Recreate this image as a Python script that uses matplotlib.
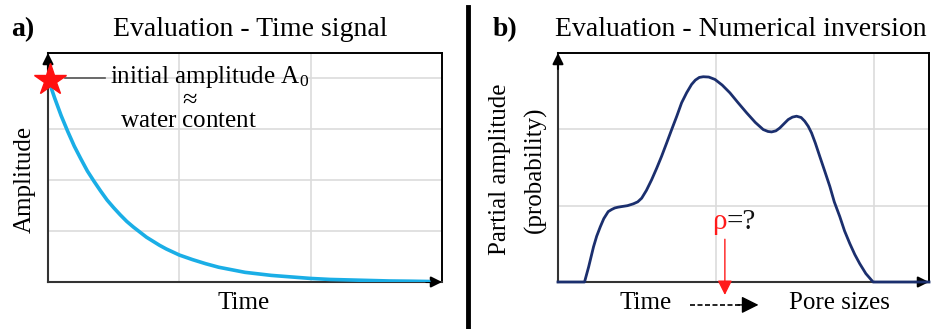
import matplotlib
matplotlib.use("Agg")
import matplotlib.pyplot as plt
from matplotlib.lines import Line2D

plt.rcParams['font.family'] = ['Liberation Serif', 'DejaVu Serif']
plt.rcParams['mathtext.fontset'] = 'custom'
plt.rcParams['mathtext.rm'] = 'Liberation Serif'
plt.rcParams['mathtext.it'] = 'Liberation Serif:italic'

# ---- data: panel a (time signal decay) ----
time_a = [0, 0.05, 0.1, 0.15, 0.2, 0.25, 0.3, 0.35, 0.4, 0.45, 0.5, 0.55,
          0.6, 0.65, 0.7, 0.75, 0.8, 0.85, 0.9, 0.95, 1.0, 1.1, 1.2, 1.3,
          1.4, 1.5, 1.6, 1.7, 1.8, 1.9, 2.0, 2.15, 2.3, 2.45, 2.6, 2.75, 2.9]
amp_a = [4.0, 3.62, 3.27, 2.96, 2.67, 2.42, 2.18, 1.98, 1.79, 1.61, 1.46,
         1.32, 1.19, 1.08, 0.98, 0.88, 0.80, 0.72, 0.65, 0.59, 0.53, 0.44,
         0.36, 0.29, 0.24, 0.19, 0.16, 0.13, 0.11, 0.09, 0.07, 0.05, 0.04,
         0.03, 0.02, 0.016, 0.01]

# ---- data: panel b (pore size distribution) ----
pore_b = [0.0, 0.168, 0.194, 0.225, 0.245, 0.268, 0.290, 0.318, 0.340, 0.36,
          0.380, 0.403, 0.44, 0.477, 0.505, 0.530, 0.56, 0.593, 0.625, 0.656,
          0.688, 0.720, 0.752, 0.783, 0.815, 0.846, 0.87, 0.895, 0.920, 0.955,
          0.994, 1.04, 1.089, 1.14, 1.195, 1.25, 1.300, 1.33, 1.353, 1.38,
          1.405, 1.43, 1.458, 1.485, 1.511, 1.54, 1.563, 1.585, 1.606, 1.63,
          1.658, 1.69, 1.722, 1.75, 1.785, 1.815, 1.848, 1.88, 1.911, 1.95,
          1.996, 2.35]
prob_b = [0.0, 0.0, 0.197, 0.461, 0.60, 0.724, 0.83, 0.922, 0.95, 0.97,
          0.98, 0.988, 1.0, 1.024, 1.05, 1.098, 1.20, 1.339, 1.49, 1.646,
          1.82, 1.997, 2.17, 2.348, 2.48, 2.588, 2.645, 2.68, 2.689, 2.685,
          2.654, 2.58, 2.478, 2.35, 2.216, 2.09, 1.997, 1.972, 1.966, 1.98,
          2.018, 2.07, 2.128, 2.16, 2.172, 2.155, 2.106, 2.04, 1.953, 1.82,
          1.646, 1.45, 1.251, 1.05, 0.856, 0.67, 0.505, 0.36, 0.241, 0.11,
          0.0, 0.0]

W, H = 931, 329
fig = plt.figure(figsize=(W / 100, H / 100), dpi=100)

grid_c = '#dcdcdc'
spine_c = '#333333'


def setup(ax, xlim, ylim, xt, yt):
    ax.set_xlim(*xlim)
    ax.set_ylim(*ylim)
    ax.set_xticks(xt)
    ax.set_yticks(yt)
    ax.tick_params(length=0, labelleft=False, labelbottom=False)
    ax.grid(True, color=grid_c, lw=1.2)
    ax.set_axisbelow(True)
    for s in ['left', 'bottom']:
        ax.spines[s].set_color(spine_c)
        ax.spines[s].set_linewidth(1.5)
    for s in ['top', 'right']:
        ax.spines[s].set_color('black')
        ax.spines[s].set_linewidth(1.4)
    # axis arrows
    ax.annotate('', xy=(0, 1.0), xytext=(0, 0.93), xycoords='axes fraction',
                arrowprops=dict(arrowstyle='-|>', color='black', lw=1.5,
                                mutation_scale=16, shrinkA=0, shrinkB=0),
                annotation_clip=False)
    ax.annotate('', xy=(1.0, 0), xytext=(0.96, 0), xycoords='axes fraction',
                arrowprops=dict(arrowstyle='-|>', color='black', lw=1.5,
                                mutation_scale=16, shrinkA=0, shrinkB=0),
                annotation_clip=False)


# ---------------- panel a ----------------
axa = fig.add_axes([48 / W, 47 / H, 394 / W, 229 / H])
setup(axa, (0, 3), (0, 4.5), [1, 2], [1, 2, 3, 4])
axa.plot(time_a, amp_a, color='#1aaee6', lw=2.6, solid_capstyle='round',
         solid_joinstyle='round', zorder=3)
axa.plot([0.13, 0.435], [4.0, 4.0], color='#555555', lw=1.2, clip_on=False, zorder=3)
axa.plot([0.015], [3.97], marker='*', color='#ff1010', ms=24, mec='#ff1010',
         clip_on=False, zorder=5)
axa.text(0.47, 4.02, 'initial amplitude A$_0$', fontsize=18, va='center', ha='left')
axa.text(1.07, 3.57, r'$\approx$', fontsize=19, va='center', ha='center')
axa.text(1.07, 3.16, r'$\mathrm{water\ content}$', fontsize=18, va='center',
         ha='center')
axa.text(-0.058, 0.45, 'Amplitude', fontsize=18, rotation=90, ha='center',
         va='center', transform=axa.transAxes)
axa.text(0.497, -0.09, 'Time', fontsize=18, ha='center', va='center',
         transform=axa.transAxes)

# ---------------- panel b ----------------
axb = fig.add_axes([558 / W, 47 / H, 371 / W, 229 / H])
setup(axb, (0, 2.35), (0, 3), [1, 2], [1, 2])
axb.plot(pore_b, prob_b, color='#1b2f6e', lw=2.0, zorder=3, clip_on=False,
         solid_joinstyle='round')
axb.text(-0.156, 0.493, 'Partial amplitude', fontsize=18, rotation=90,
         ha='center', va='center', transform=axb.transAxes)
axb.text(-0.062, 0.489, '(probability)', fontsize=18, rotation=90,
         ha='center', va='center', transform=axb.transAxes)
axb.text(1.07, 0.78, 'ρ', fontsize=21, color='#ff1a1a', ha='right', va='center')
axb.text(1.07, 0.78, '=?', fontsize=21, color='#111111', ha='left', va='center')
axb.annotate('', xy=(1.057, -0.17), xytext=(1.057, 0.56),
             arrowprops=dict(arrowstyle='-|>', color='#ff1a1a', lw=1.0,
                             mutation_scale=22, shrinkA=0, shrinkB=0),
             annotation_clip=False)
axb.plot([0.835, 1.16], [-0.30, -0.30], color='black', lw=1.2, ls=(0, (3, 1.5)),
         clip_on=False)
axb.annotate('', xy=(1.27, -0.30), xytext=(1.14, -0.30),
             arrowprops=dict(arrowstyle='-|>', color='black', lw=1.0,
                             mutation_scale=26, shrinkA=0, shrinkB=0),
             annotation_clip=False)
axb.text(0.557, -0.28, 'Time', fontsize=18, ha='center', va='center')
axb.text(1.785, -0.28, 'Pore sizes', fontsize=18, ha='center', va='center')

# ---------------- titles ----------------
ty = 1 - 30 / H
fig.text(23 / W, ty, 'a)', fontsize=20, fontweight='bold', ha='center', va='center')
fig.text(250 / W, ty, 'Evaluation - Time signal', fontsize=20, ha='center', va='center')
fig.text(505 / W, ty, 'b)', fontsize=20, fontweight='bold', ha='center', va='center')
fig.text(741 / W, ty, 'Evaluation - Numerical inversion', fontsize=20,
         ha='center', va='center')

# separator
fig.add_artist(Line2D([467.5 / W, 467.5 / W], [0, 1 - 7 / H], color='black', lw=3.5))

fig.savefig('out.png', dpi=100)
